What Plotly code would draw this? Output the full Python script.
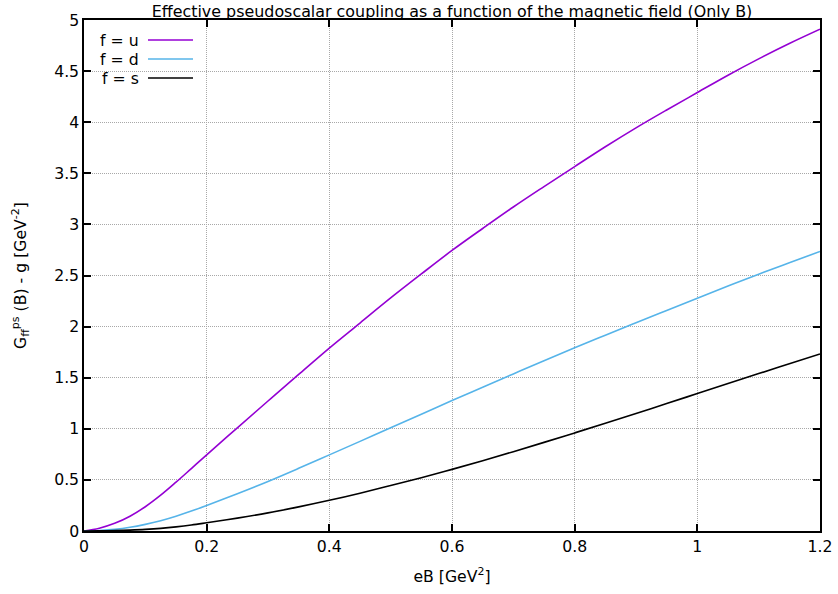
import plotly.graph_objects as go

eB = [0, 0.025, 0.05, 0.075, 0.1, 0.125, 0.15, 0.175, 0.2, 0.25, 0.3, 0.35, 0.4, 0.45,
      0.5, 0.55, 0.6, 0.65, 0.7, 0.75, 0.8, 0.85, 0.9, 0.95, 1.0, 1.05, 1.1, 1.15, 1.2]
g_u = [0, 0.0275, 0.075, 0.145, 0.2375, 0.35, 0.4775, 0.611, 0.745, 1.01, 1.272, 1.532, 1.79, 2.035,
       2.28, 2.515, 2.745, 2.96, 3.17, 3.37, 3.566, 3.76, 3.945, 4.12, 4.29, 4.46, 4.62, 4.77, 4.91]
g_d = [0, 0.005, 0.016, 0.036, 0.065, 0.101, 0.145, 0.195, 0.25, 0.365, 0.485, 0.613, 0.745, 0.877,
       1.01, 1.143, 1.276, 1.407, 1.537, 1.666, 1.793, 1.916, 2.037, 2.158, 2.278, 2.397, 2.513, 2.625, 2.735]
g_s = [0, 0.001, 0.004, 0.009, 0.016, 0.026, 0.04, 0.058, 0.08, 0.126, 0.177, 0.236, 0.30, 0.37,
       0.445, 0.522, 0.603, 0.688, 0.776, 0.867, 0.96, 1.054, 1.15, 1.247, 1.345, 1.443, 1.54, 1.636, 1.732]

series = [("f = u", g_u, "#9400d3"), ("f = d", g_d, "#56b4e9"), ("f = s", g_s, "#000000")]

FONT = "DejaVu Sans"
FS = 15.7
fig = go.Figure()
for name, ys, col in series:
    fig.add_trace(go.Scatter(x=eB, y=ys, mode="lines", name=name,
                             line=dict(color=col, width=1.6, shape="spline", smoothing=1.0),
                             showlegend=False))

# manual gnuplot-style legend (text then sample line)
W, H = 838, 594
L, R, T, B = 84, 18, 20, 63
pw, ph = W - L - R, H - T - B
for i, (name, ys, col) in enumerate(series):
    ypx = 40 + i * 19
    yp = 1 - (ypx - T) / ph
    fig.add_annotation(x=(141 - L) / pw, y=yp, xref="paper", yref="paper", text=name,
                       showarrow=False, xanchor="right", yanchor="middle",
                       font=dict(family=FONT, size=FS, color="black"))
    fig.add_shape(type="line", xref="paper", yref="paper",
                  x0=(148 - L) / pw, x1=(193 - L) / pw, y0=yp, y1=yp,
                  line=dict(color=col, width=1.6))

axis_common = dict(showline=True, linecolor="black", linewidth=1.5, mirror="ticks",
                   ticks="inside", ticklen=7, tickwidth=1.5, tickcolor="black",
                   showgrid=True, gridcolor="#a8a8a8", griddash="1px,1px", gridwidth=1,
                   zeroline=False, automargin=False,
                   tickfont=dict(family=FONT, size=FS, color="black"))

fig.update_xaxes(range=[0, 1.2], tickvals=[0, 0.2, 0.4, 0.6, 0.8, 1.0, 1.2],
                 ticktext=["0", "0.2", "0.4", "0.6", "0.8", "1", "1.2"],
                 title=dict(text="eB [GeV<sup>2</sup>]", font=dict(family=FONT, size=FS, color="black"),
                            standoff=16),
                 **axis_common)
fig.update_yaxes(range=[0, 5], tickvals=[0, 0.5, 1, 1.5, 2, 2.5, 3, 3.5, 4, 4.5, 5],
                 ticktext=["0", "0.5", "1", "1.5", "2", "2.5", "3", "3.5", "4", "4.5", "5"],
                 title=dict(text="G<sub>ff</sub><sup>ps</sup> (B) - g [GeV<sup>-2</sup>]",
                            font=dict(family=FONT, size=FS, color="black"), standoff=24),
                 **axis_common)

fig.update_layout(
    width=W, height=H,
    margin=dict(l=L, r=R, t=T, b=B, autoexpand=False),
    plot_bgcolor="white", paper_bgcolor="white",
    title=dict(text="Effective pseudoscalar coupling as a function of the magnetic field (Only B)",
               x=(L + pw / 2) / W, xanchor="center", y=1 - 11 / H, yanchor="middle",
               font=dict(family=FONT, size=15.9, color="black")),
)

fig.write_html("out.html")
